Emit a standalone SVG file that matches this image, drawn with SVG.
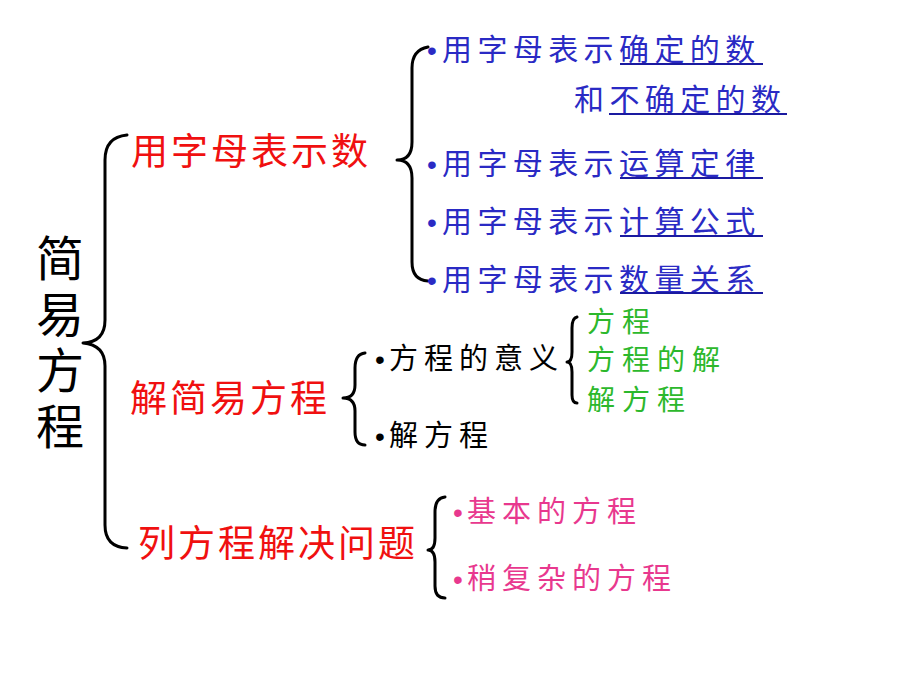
<svg xmlns="http://www.w3.org/2000/svg" width="920" height="690" viewBox="0 0 920 690">
<style>
text{font-family:"Noto Sans CJK SC","Noto Sans CJK JP",sans-serif;}
.bul{font-family:"Liberation Sans",sans-serif;font-size:28px;}
.title{font-size:48px;fill:#000;writing-mode:vertical-rl;text-orientation:upright;letter-spacing:8px;}
.red{font-size:37px;fill:#f01010;letter-spacing:3px;}
.blue{font-size:30px;fill:#2a2ac4;letter-spacing:5.4px;}
.blk{font-size:29px;fill:#000;letter-spacing:6px;}
.grn{font-size:28px;fill:#2cb82c;letter-spacing:7px;}
.pnk{font-size:29px;fill:#e8388e;letter-spacing:6px;}
.ul{stroke:#1a1aa0;stroke-width:2;}
.brace{fill:none;stroke:#000;stroke-width:3;stroke-linecap:round;stroke-linejoin:round;}
</style>
<rect width="920" height="690" fill="#fff"/>
<g id="connectors">
<path class="brace" d="M127,135 Q105,137 105,160 L105,320 Q105,342 83,343 Q105,345 105,366 L105,525 Q105,547 127,548"/>
<path class="brace" d="M428,47 Q412,50 412,68 L412,142 Q412,160 397,160 Q412,160 412,178 L412,262 Q412,280 428,281"/>
<path class="brace" d="M365,353 Q355,354 355,368 L355,385 Q355,398 343,398 Q355,398 355,411 L355,432 Q355,445 365,445"/>
<path class="brace" d="M577,317 Q572,318 572,328 L572,352 Q572,362 567,362 Q572,362 572,372 L572,395 Q572,403 577,403"/>
<path class="brace" d="M445,497 Q435,498 435,512 L435,538 Q435,550 428,550 Q435,550 435,562 L435,586 Q435,598 445,598"/>
</g>
<g id="root">
<text class="title" x="60" y="234">简易方程</text>
</g>
<g id="n-letters">
<text class="red" x="131" y="165">用字母表示数</text>
</g>
<g id="n-equation">
<text class="red" x="130" y="412">解简易方程</text>
</g>
<g id="n-solve">
<text class="red" x="138" y="557">列方程解决问题</text>
</g>
<g id="b1">
<text class="bul" x="427" y="60" fill="#2a2ac4">•</text>
<text class="blue" x="442" y="60">用字母表示确定的数</text>
<text class="blue" x="574" y="110">和不确定的数</text>
<line class="ul" x1="620" y1="64" x2="763" y2="64"/>
<line class="ul" x1="609" y1="114" x2="787" y2="114"/>
</g>
<g id="b2">
<text class="bul" x="427" y="174" fill="#2a2ac4">•</text>
<text class="blue" x="442" y="174">用字母表示运算定律</text>
<line class="ul" x1="620" y1="178" x2="763" y2="178"/>
</g>
<g id="b3">
<text class="bul" x="427" y="232" fill="#2a2ac4">•</text>
<text class="blue" x="442" y="232">用字母表示计算公式</text>
<line class="ul" x1="620" y1="236" x2="763" y2="236"/>
</g>
<g id="b4">
<text class="bul" x="427" y="290" fill="#2a2ac4">•</text>
<text class="blue" x="442" y="290">用字母表示数量关系</text>
<line class="ul" x1="620" y1="293" x2="763" y2="293"/>
</g>
<g id="meaning">
<text class="bul" x="375" y="369" fill="#000">•</text>
<text class="blk" x="389" y="369">方程的意义</text>
</g>
<g id="solve-eq">
<text class="bul" x="375" y="446" fill="#000">•</text>
<text class="blk" x="389" y="446">解方程</text>
</g>
<g id="g1"><text class="grn" x="587" y="332">方程</text></g>
<g id="g2"><text class="grn" x="587" y="370">方程的解</text></g>
<g id="g3"><text class="grn" x="587" y="410">解方程</text></g>
<g id="p1">
<text class="bul" x="453" y="522" fill="#e8388e">•</text>
<text class="pnk" x="467" y="522">基本的方程</text>
</g>
<g id="p2">
<text class="bul" x="453" y="589" fill="#e8388e">•</text>
<text class="pnk" x="467" y="589">稍复杂的方程</text>
</g>
</svg>
